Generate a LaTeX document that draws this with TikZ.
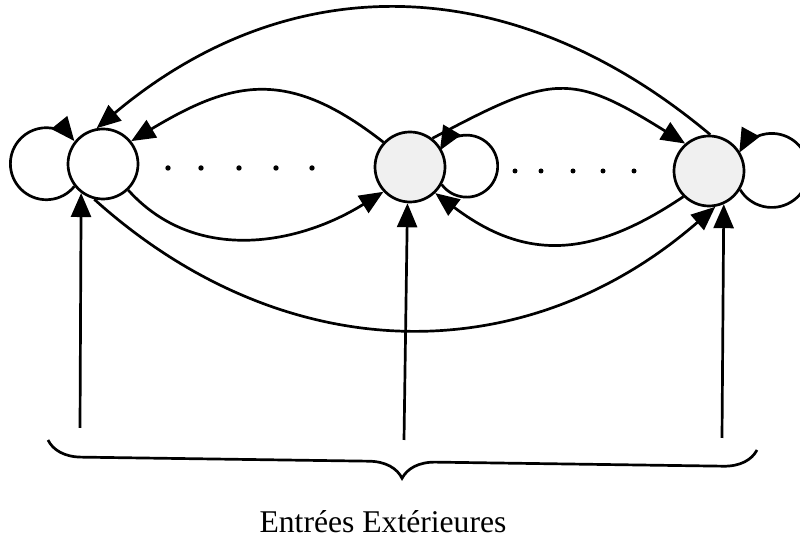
\documentclass[tikz,border=0pt]{standalone}
\usepackage{fontspec}
\setmainfont{Liberation Serif}
\usetikzlibrary{arrows.meta,decorations.pathreplacing}
\definecolor{cellwhite}{RGB}{255,255,255}
\definecolor{cellgray}{RGB}{240,240,240}

\begin{document}
\begin{tikzpicture}[x=0.03cm,y=0.03cm,
  neuron/.style={circle,draw=black,line width=2.3pt,minimum size=2.1cm,inner sep=0pt},
  link/.style={line width=2.3pt,-{Triangle[length=0.72cm,width=0.6cm]}}]
\useasboundingbox (0,0) rectangle (800,540);

% Neurons (left, middle, right)
\node[neuron,fill=cellwhite] (nL) at (103,376) {};
\node[neuron,fill=cellgray] (nM) at (410,373) {};
\node[neuron,fill=cellgray] (nR) at (709,369) {};

% Self loops
\draw[link] (nL.218) arc[start angle=-39,end angle=-321,radius=36];
\draw[link] (nM.331) arc[start angle=216.6,end angle=509.6,radius=31];
\draw[link] (nR.329) arc[start angle=211.4,end angle=511.3,radius=37];

% Dots between neurons
\foreach \x in {168,201,239,276,312} {
  \fill (\x,372) circle (2.7);
}
\foreach \x in {515,541,573,603,634} {
  \fill (\x,369) circle (2.5);
}

% Upper connections
\draw[link] (nR.88) .. controls +(140:255) and +(40:255) .. (nL.100);
\draw[link] (nM.137) .. controls +(142:120) and +(31:120) .. (nL.39);
\draw[link] (nM.52) .. controls +(28:136) and +(148:136) .. (nR.131);

% Lower connections
\draw[link] (nL.314) .. controls +(-48:100) and +(212:100) .. (nM.223);
\draw[link] (nR.225) .. controls +(214:112) and +(323:112) .. (nM.314);
\draw[link] (nL.256) .. controls +(-42:254) and +(221:254) .. (nR.280);

% External inputs
\coordinate (inL) at (80,112);
\coordinate (inM) at (404,100);
\coordinate (inR) at (722,102);
\draw[link] (inL) -- (nL.233);
\draw[link] (inM) -- (nM.266);
\draw[link] (inR) -- (nR.294);

% Brace and caption
\coordinate (braceL) at (48,100);
\coordinate (braceR) at (757,90);
\draw[line width=2.3pt,decorate,decoration={brace,amplitude=1cm,aspect=0.5}] (braceR) -- (braceL);
\node[font=\fontsize{27}{32}\selectfont,anchor=base] (caption) at (383,7) {Entrées Extérieures};
\end{tikzpicture}
\end{document}
